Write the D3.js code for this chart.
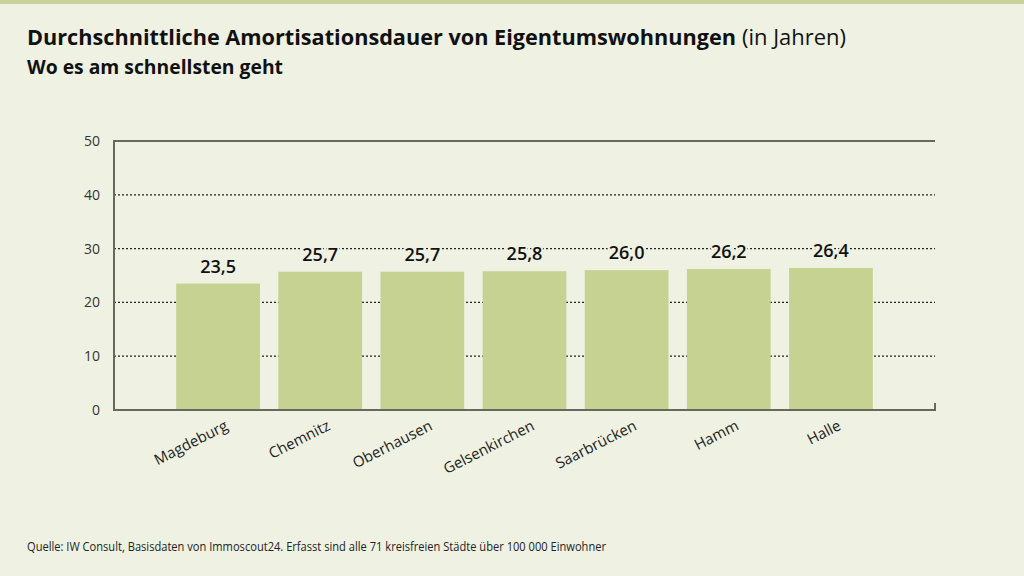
<!DOCTYPE html>
<html>
<head>
<meta charset="utf-8">
<script src="https://cdn.jsdelivr.net/npm/d3@7"></script>
<style>
  html, body { margin: 0; padding: 0; background: #eff2e3; }
  svg { display: block; }
</style>
</head>
<body>
<div id="chart"></div>
<script>
const cities = ["Magdeburg", "Chemnitz", "Oberhausen", "Gelsenkirchen", "Saarbrücken", "Hamm", "Halle"];
const years = [23.5, 25.7, 25.7, 25.8, 26.0, 26.2, 26.4];
const yTicks = [0, 10, 20, 30, 40, 50];

const width = 1024, height = 576;
const bg = "#eff2e3";
const fontMain = "'Open Sans', sans-serif";

const svg = d3.select("#chart").append("svg")
    .attr("width", width)
    .attr("height", height);

svg.append("rect")
    .attr("width", width)
    .attr("height", height)
    .attr("fill", bg);

// top green stripe
svg.append("rect")
    .attr("width", width)
    .attr("height", 4)
    .attr("fill", "#c8d29a");

// titles
const title = svg.append("text")
    .attr("x", 27)
    .attr("y", 45)
    .style("font-family", fontMain)
    .style("font-size", "21px")
    .attr("fill", "#111");
title.append("tspan")
    .style("font-weight", "bold")
    .attr("textLength", 709)
    .attr("lengthAdjust", "spacingAndGlyphs")
    .text("Durchschnittliche Amortisationsdauer von Eigentumswohnungen");
title.append("tspan")
    .attr("dx", 6)
    .attr("textLength", 104)
    .attr("lengthAdjust", "spacingAndGlyphs")
    .text("(in Jahren)");

svg.append("text")
    .attr("x", 27)
    .attr("y", 74)
    .style("font-family", fontMain)
    .style("font-size", "19px")
    .style("font-weight", "bold")
    .attr("fill", "#111")
    .attr("textLength", 256)
    .attr("lengthAdjust", "spacingAndGlyphs")
    .text("Wo es am schnellsten geht");

// scales
const plotLeft = 114, plotRight = 935, plotTop = 141, plotBottom = 410;

const x = d3.scaleBand()
    .domain(cities)
    .range([167, 882])
    .paddingInner(0.18)
    .paddingOuter(0.09);

const y = d3.scaleLinear()
    .domain([0, 50])
    .range([plotBottom, plotTop]);

// dotted gridlines
svg.append("g")
    .selectAll("line")
    .data(yTicks.filter(d => d > 0 && d < 50))
    .enter().append("line")
    .attr("x1", plotLeft)
    .attr("x2", plotRight)
    .attr("y1", d => y(d))
    .attr("y2", d => y(d))
    .attr("stroke", "#222")
    .attr("stroke-width", 1.2)
    .attr("stroke-dasharray", "2,2");

// bars
svg.append("g")
    .selectAll("rect")
    .data(years)
    .enter().append("rect")
    .attr("x", (d, i) => x(cities[i]))
    .attr("y", d => y(d))
    .attr("width", x.bandwidth())
    .attr("height", d => plotBottom - y(d))
    .attr("fill", "#c6d292");

// frame: left axis, top line, baseline with right tick
svg.append("path")
    .attr("d", `M${plotRight},${plotTop}H${plotLeft}V${plotBottom}H${plotRight}V${plotBottom - 7}`)
    .attr("fill", "none")
    .attr("stroke", "#66695c")
    .attr("stroke-width", 2);

// y tick labels
svg.append("g")
    .selectAll("text")
    .data(yTicks)
    .enter().append("text")
    .attr("x", 100)
    .attr("y", d => y(d) + 5)
    .attr("text-anchor", "end")
    .style("font-family", fontMain)
    .style("font-size", "14px")
    .attr("fill", "#333")
    .text(d => d);

// value labels (halo knocks out the dotted line behind them)
const fmt = d3.format(".1f");
svg.append("g")
    .selectAll("text")
    .data(years)
    .enter().append("text")
    .attr("x", (d, i) => x(cities[i]) + x.bandwidth() / 2)
    .attr("y", d => y(d) - 11)
    .attr("text-anchor", "middle")
    .style("font-family", fontMain)
    .style("font-size", "18px")
    .style("font-weight", 600)
    .style("paint-order", "stroke")
    .attr("stroke", bg)
    .attr("stroke-width", 4)
    .attr("fill", "#111")
    .text(d => fmt(d).replace(".", ","));

// category labels
svg.append("g")
    .selectAll("text")
    .data(cities)
    .enter().append("text")
    .attr("transform", d => `translate(${x(d) + x.bandwidth() / 2 + 11},${429}) rotate(-27)`)
    .attr("text-anchor", "end")
    .style("font-family", fontMain)
    .style("font-size", "15px")
    .attr("fill", "#222")
    .text(d => d);

// source
svg.append("text")
    .attr("x", 27)
    .attr("y", 551)
    .style("font-family", fontMain)
    .style("font-size", "12.5px")
    .attr("fill", "#222")
    .attr("textLength", 579)
    .attr("lengthAdjust", "spacingAndGlyphs")
    .text("Quelle: IW Consult, Basisdaten von Immoscout24. Erfasst sind alle 71 kreisfreien Städte über 100 000 Einwohner");
</script>
</body>
</html>
